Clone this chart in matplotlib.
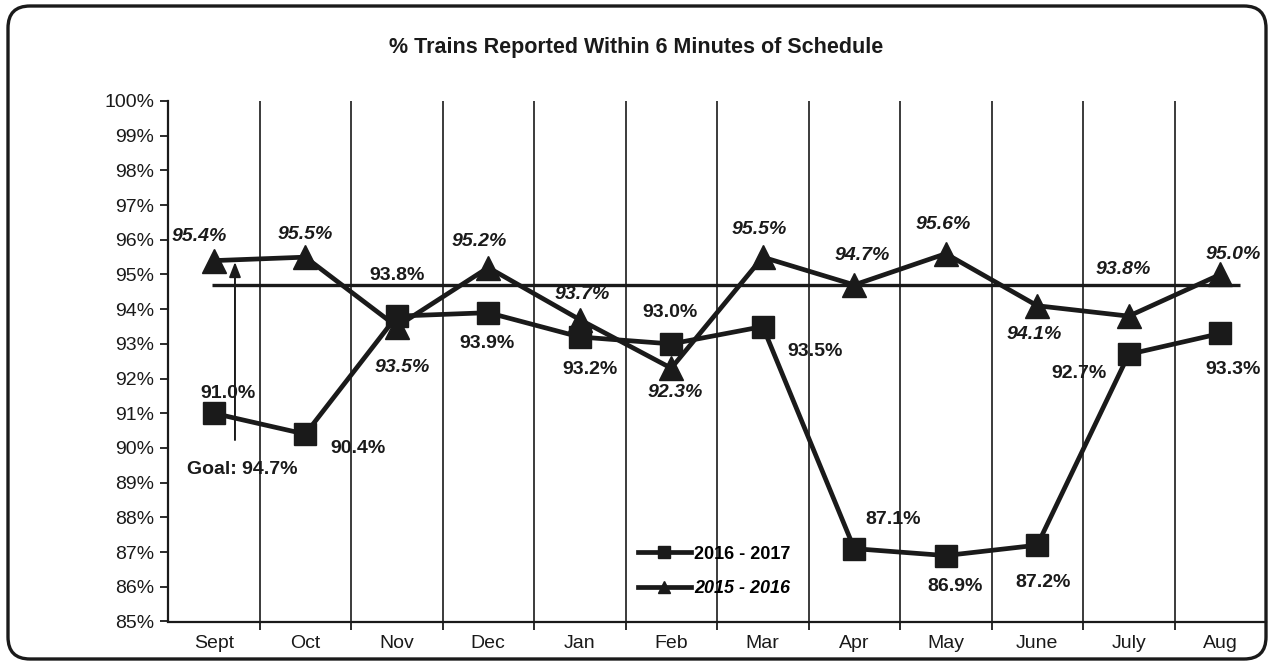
import numpy as np
import matplotlib
matplotlib.use("Agg")
import matplotlib.pyplot as plt
from matplotlib.patches import FancyBboxPatch

plt.rcParams['font.family'] = ['Liberation Sans', 'DejaVu Sans']

# =========================
# data
# =========================
months = ["Sept", "Oct", "Nov", "Dec", "Jan", "Feb", "Mar", "Apr", "May", "June", "July", "Aug"]
fy_2016_17 = [91.0, 90.4, 93.8, 93.9, 93.2, 93.0, 93.5, 87.1, 86.9, 87.2, 92.7, 93.3]
fy_2015_16 = [95.4, 95.5, 93.5, 95.2, 93.7, 92.3, 95.5, 94.7, 95.6, 94.1, 93.8, 95.0]
goal = 94.7
yticks = list(range(85, 101))

# label offsets (pixels, y up)
off_1617 = [(14, 20), (53, -14), (0, 41), (-1, -31), (10, -33), (-1, 31),
            (52, -25), (39, 29), (9, -31), (6, -37), (-50, -19), (13, -36)]
off_1516 = [(-15, 24), (0, 23), (5, -41), (-9, 26), (2, 25), (4, -24),
            (-4, 28), (8, 29), (-3, 29), (-3, -29), (-6, 47), (13, 20)]

ink = "#1a1a1a"
W, H = 1272, 665

fig = plt.figure(figsize=(W / 100, H / 100), dpi=100)
ax = fig.add_axes([168 / W, 1 - 621.5 / H, 1098 / W, 520.5 / H])

x = np.arange(len(months))

# goal line
ax.plot([-0.02, 11.22], [goal, goal], color=ink, lw=2.4, zorder=3, solid_capstyle='butt')

l1, = ax.plot(x, fy_2016_17, color=ink, lw=3.4, marker='s', markersize=16,
              label="2016 - 2017", zorder=5)
l2, = ax.plot(x, fy_2015_16, color=ink, lw=3.4, marker='^', markersize=17,
              label="2015 - 2016", zorder=4)

for i, v in enumerate(fy_2016_17):
    ax.annotate(f"{v:.1f}%", (x[i], v), xytext=off_1617[i], textcoords='offset pixels',
                ha='center', va='center', fontsize=14, fontweight='bold', color=ink, zorder=6)
for i, v in enumerate(fy_2015_16):
    ax.annotate(f"{v:.1f}%", (x[i], v), xytext=off_1516[i], textcoords='offset pixels',
                ha='center', va='center', fontsize=14, fontweight='bold', style='italic',
                color=ink, zorder=6)

# goal callout
ax.annotate("", xy=(0.232, 95.36), xytext=(0.232, 90.23),
            arrowprops=dict(arrowstyle='-|>,head_length=0.9,head_width=0.35',
                            color=ink, lw=1.4, shrinkA=0, shrinkB=0), zorder=4)
ax.text(0.309, 89.37, "Goal: 94.7%", ha='center', va='center', fontsize=14,
        fontweight='bold', color=ink)

# axes
ax.set_xlim(-0.5, 11.5)
ax.set_ylim(85, 100)
ax.set_yticks(yticks)
ax.set_yticklabels([f"{t}%" for t in yticks])
ax.set_xticks(x)
ax.set_xticklabels(months)
ax.set_xticks(np.arange(0.5, 11.5, 1.0), minor=True)
ax.tick_params(axis='x', which='major', length=0, pad=10, labelsize=14, colors=ink)
ax.tick_params(axis='x', which='minor', length=6, width=1.3, direction='out', color=ink)
ax.tick_params(axis='y', length=6, width=1.3, direction='out', labelsize=14, colors=ink, pad=4)
for t in np.arange(0.5, 11.5, 1.0):
    ax.axvline(t, color=ink, lw=1.2, zorder=1)
for s in ['top', 'right']:
    ax.spines[s].set_visible(False)
for s in ['left', 'bottom']:
    ax.spines[s].set_linewidth(1.6)
    ax.spines[s].set_color(ink)

# legend
leg = ax.legend(handles=[l1, l2], loc='upper left', bbox_to_anchor=(0.42, 0.163),
                frameon=False, markerscale=0.5, handlelength=2.9, handletextpad=0.2,
                labelspacing=0.95, borderpad=0, prop={'weight': 'bold', 'size': 13})
leg.get_texts()[1].set_style('italic')

fig.text(636 / W, 1 - 48 / H, "% Trains Reported Within 6 Minutes of Schedule",
         ha='center', va='center', fontsize=15.5, fontweight='bold', color=ink)

# rounded border
r = 22
box = FancyBboxPatch((8 / W, 6 / H), (1266 - 8) / W, (659 - 6) / H,
                     boxstyle=f"round,pad=0,rounding_size={r / W}",
                     mutation_aspect=W / H, transform=fig.transFigure,
                     fill=False, edgecolor=ink, lw=2.4)
fig.patches.append(box)

fig.savefig("out.png", dpi=100)
